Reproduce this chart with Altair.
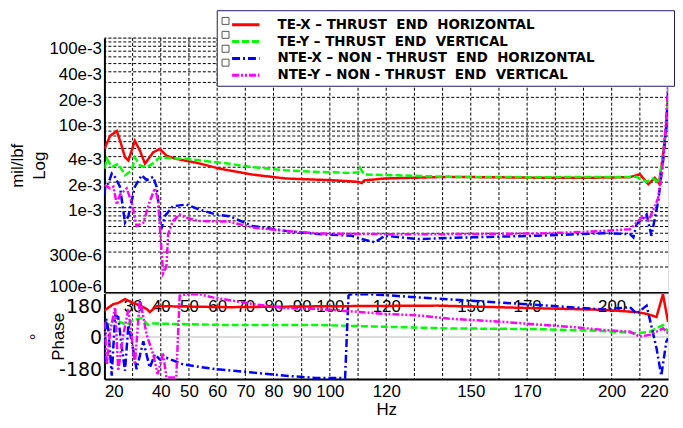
import altair as alt
import pandas as pd

SERIES = [
    "TE-X – THRUST\u00a0 END\u00a0 HORIZONTAL",
    "TE-Y – THRUST\u00a0 END\u00a0 VERTICAL",
    "NTE-X – NON - THRUST\u00a0 END\u00a0 HORIZONTAL",
    "NTE-Y – NON - THRUST\u00a0 END\u00a0 VERTICAL",
]
COLORS = ["#ff0000", "#00ff00", "#0000ff", "#ff00ff"]
DASHES = [[1, 0], [7, 3], [8, 3, 2, 3], [7, 2, 2, 2, 2, 2]]

# ---- magnitude (mil/lbf) ----
TEX_MAG_HZ = [20.0, 22.0, 24.4, 25.9, 27.3, 28.5, 30.8, 32.6, 34.4, 37.3, 39.6, 42.0, 44.9, 53.7, 60.8, 72.4, 84.3,
              100.6, 110.1, 111.3, 112.2, 119.5, 141.9, 173.6, 194.7, 206.4, 210.0, 213.0, 215.3, 216.8, 218.2, 219.4, 220.0]
TEX_MAG = [4.92e-3, 7.02e-3, 8.01e-3, 5.67e-3, 3.93e-3, 3.60e-3, 6.14e-3, 4.71e-3, 3.30e-3, 4.50e-3, 4.92e-3, 4.12e-3,
           3.80e-3, 3.33e-3, 2.89e-3, 2.46e-3, 2.21e-3, 2.11e-3, 2.02e-3, 1.95e-3, 2.10e-3, 2.21e-3, 2.31e-3, 2.26e-3,
           2.26e-3, 2.29e-3, 2.48e-3, 1.89e-3, 2.25e-3, 1.94e-3, 4.12e-3, 9.16e-3, 0.0204]

TEY_MAG_HZ = [20.0, 20.9, 22.6, 24.9, 27.3, 29.7, 30.8, 32.6, 35.0, 37.2, 39.6, 44.9, 49.0, 64.3, 72.4, 84.3, 96.0,
              107.7, 110.1, 110.7, 112.2, 131.3, 141.9, 173.6, 208.8, 212.4, 214.7, 216.8, 218.2, 219.4, 220.0]
TEY_MAG = [2.89e-3, 3.77e-3, 3.01e-3, 3.30e-3, 2.42e-3, 2.76e-3, 3.90e-3, 3.15e-3, 2.99e-3, 3.33e-3, 3.93e-3, 3.80e-3,
           3.77e-3, 3.30e-3, 3.01e-3, 2.76e-3, 2.64e-3, 2.57e-3, 2.62e-3, 2.95e-3, 2.46e-3, 2.37e-3, 2.31e-3, 2.29e-3,
           2.31e-3, 2.02e-3, 2.21e-3, 1.95e-3, 4.12e-3, 9.16e-3, 0.0252]

NTEX_MAG_HZ = [20.0, 20.3, 21.4, 22.6, 23.8, 25.5, 27.3, 28.5, 30.8, 33.2, 35.0, 37.3, 38.5, 40.2, 41.4, 44.3, 49.0,
               53.7, 59.6, 64.3, 72.5, 84.3, 96.0, 107.8, 111.3, 116.0, 119.5, 131.3, 141.9, 150.1, 173.6, 197.1, 206.5,
               207.7, 208.8, 212.4, 214.1, 216.5, 218.2, 219.4, 220.0]
NTEX_MAG = [1.42e-3, 1.77e-3, 1.94e-3, 2.53e-3, 2.29e-3, 1.77e-3, 6.67e-4, 7.95e-4, 1.77e-3, 2.42e-3, 2.11e-3, 2.31e-3,
            1.77e-3, 5.58e-4, 7.95e-4, 1.04e-3, 1.09e-3, 9.51e-4, 8.32e-4, 7.95e-4, 6.09e-4, 5.33e-4, 4.88e-4, 4.67e-4,
            4.27e-4, 3.91e-4, 4.67e-4, 4.27e-4, 4.39e-4, 4.47e-4, 4.67e-4, 5.01e-4, 4.88e-4, 4.47e-4, 6.37e-4, 8.32e-4,
            4.67e-4, 1.19e-3, 3.44e-3, 9.16e-3, 0.0233]

NTEY_MAG_HZ = [20.0, 22.0, 23.2, 24.4, 25.5, 27.9, 29.7, 31.4, 33.8, 36.1, 37.9, 39.0, 40.2, 40.8, 42.0, 42.6, 44.3,
               46.7, 49.0, 53.7, 64.3, 72.5, 84.3, 96.0, 119.5, 141.9, 173.6, 185.3, 197.1, 206.5, 208.8, 211.2, 213.1,
               215.3, 216.5, 218.2, 219.4, 220.0]
NTEY_MAG = [1.85e-3, 1.69e-3, 1.77e-3, 1.09e-3, 1.42e-3, 1.69e-3, 1.14e-3, 6.09e-4, 6.67e-4, 1.19e-3, 1.69e-3, 1.24e-3,
            3.42e-4, 1.68e-4, 2.01e-4, 4.88e-4, 6.96e-4, 8.32e-4, 7.62e-4, 6.96e-4, 6.85e-4, 5.84e-4, 5.33e-4, 4.97e-4,
            4.88e-4, 4.88e-4, 4.97e-4, 5.11e-4, 5.33e-4, 5.58e-4, 6.67e-4, 7.95e-4, 7.07e-4, 1.04e-3, 1.30e-3, 3.44e-3,
            0.0120, 0.0280]

# ---- phase (deg) ----
TEX_PH_HZ = [20.0, 23.2, 24.9, 27.3, 29.7, 32.6, 35.0, 36.1, 38.5, 64.3, 96.0, 138.3, 173.6, 197.1, 208.8, 212.4,
             215.9, 218.2, 220.0]
TEX_PH = [151, 188, 194, 216, 198, 179, 160, 142, 176, 170, 175, 179, 164, 155, 142, 132, 114, 244, 86]

TEY_PH_HZ = [20.0, 20.9, 22.0, 23.8, 25.5, 27.9, 30.2, 33.2, 35.5, 37.3, 64.3, 96.0, 141.9, 173.6, 197.1, 208.8,
             213.5, 218.2, 220.0]
TEY_PH = [60, 77, 68, 105, 86, 68, 96, 108, 68, 77, 68, 68, 49, 45, 34, 21, 30, 68, 30]

NTEX_PH_HZ = [20.0, 20.6, 21.4, 22.6, 23.8, 24.9, 25.9, 27.3, 28.5, 29.7, 31.4, 33.8, 36.1, 37.9, 39.6, 42.0, 47.9,
              53.7, 59.6, 72.5, 84.3, 94.9, 105.4, 106.6, 107.2, 113.7, 119.5, 131.3, 150.1, 173.6, 185.3, 197.1,
              206.5, 208.8, 212.4, 215.9, 217.6, 219.4, 220.0]
NTEX_PH = [-138, 105, 40, -221, 124, 114, -25, -193, 68, -25, -184, -25, -175, -100, -128, -119, -156, -171, -184,
           -203, -221, -234, -234, 235, 244, 244, 239, 226, 207, 183, 170, 157, 170, 132, 179, -63, -221, -26, -7]

NTEY_PH_HZ = [20.0, 20.9, 22.0, 23.8, 24.9, 26.6, 28.5, 30.8, 32.6, 35.0, 37.3, 38.9, 40.8, 42.0, 45.5, 46.7, 49.0,
              53.7, 58.4, 72.5, 84.3, 96.0, 107.8, 119.5, 131.3, 141.9, 161.8, 173.6, 185.3, 197.1, 206.5, 210.0,
              213.5, 215.9, 218.2, 220.0]
NTEY_PH = [86, -156, 30, 170, -193, 2, 160, -156, 216, 12, -100, -212, -91, -231, -231, 235, 244, 244, 226, 188, 164,
           160, 146, 132, 123, 105, 86, 71, 58, 40, 30, 2, 12, 30, 49, 21]

# ---- axes / grids ----
X_DOMAIN = [20, 220]
X_GRID = [30, 40, 50, 60, 70, 80, 90, 100, 110, 120, 130, 140, 150, 160, 170, 180, 190, 200, 210]
TOP_X_LABELS = [30, 40, 50, 60, 70, 80, 90, 100, 120, 150, 170, 200]
BOTTOM_X_LABELS = [20, 40, 50, 60, 70, 80, 90, 100, 120, 150, 170, 200, 220]
MAG_DOMAIN = [1e-4, 1e-1]
MAG_GRID = [1e-4, 2e-4, 3e-4, 4e-4, 5e-4, 6e-4, 7e-4, 8e-4, 9e-4,
            1e-3, 2e-3, 3e-3, 4e-3, 5e-3, 6e-3, 7e-3, 8e-3, 9e-3,
            1e-2, 2e-2, 3e-2, 4e-2, 5e-2, 6e-2, 7e-2, 8e-2, 9e-2, 1e-1]
MAG_TICKS = [1e-4, 3e-4, 1e-3, 2e-3, 4e-3, 1e-2, 2e-2, 4e-2, 1e-1]
MAG_TICK_LABELS = ["100e-6", "300e-6", "1e-3", "2e-3", "4e-3", "10e-3", "20e-3", "40e-3", "100e-3"]
PH_DOMAIN = [-240, 248]
PH_TICKS = [-180, 0, 180]
PH_ZERO = [0]


def long_df(hz_lists, val_lists):
    rows = []
    for k, (name, hz, vals) in enumerate(zip(SERIES, hz_lists, val_lists)):
        for i, (h, v) in enumerate(zip(hz, vals)):
            rows.append({"series": name, "box": k, "hz": h, "v": v, "i": i})
    return pd.DataFrame(rows)


mag_df = long_df([TEX_MAG_HZ, TEY_MAG_HZ, NTEX_MAG_HZ, NTEY_MAG_HZ], [TEX_MAG, TEY_MAG, NTEX_MAG, NTEY_MAG])
ph_df = long_df([TEX_PH_HZ, TEY_PH_HZ, NTEX_PH_HZ, NTEY_PH_HZ], [TEX_PH, TEY_PH, NTEX_PH, NTEY_PH])

# label expression for the log axis
conds = []
for k in range(len(MAG_TICKS) - 1):
    mid = (MAG_TICKS[k] * MAG_TICKS[k + 1]) ** 0.5
    conds.append(f"datum.value < {mid:.6g} ? '{MAG_TICK_LABELS[k]}' : ")
mag_label_expr = "".join(conds) + f"'{MAG_TICK_LABELS[-1]}'"

W = 567
H_MAG = 256
H_PH = 86
AX_FONT = "Liberation Sans"
LEG_X = 113
LEG_Y = -28
ROW_PAD = -1.6
ZW = "\u200b"

x_scale = alt.Scale(domain=X_DOMAIN, nice=False, zero=False)
mag_scale = alt.Scale(type="log", domain=MAG_DOMAIN, nice=False)
ph_scale = alt.Scale(domain=PH_DOMAIN, nice=False, zero=False)

x_mag = alt.X("hz:Q", scale=x_scale,
              axis=alt.Axis(values=TOP_X_LABELS, title=None, grid=False, ticks=False, labelPadding=6,
                            labelFontSize=17, labelFont=AX_FONT, labelColor="black", domainColor="black",
                            domainWidth=2, labelOverlap=False))
x_ph = alt.X("hz:Q", scale=x_scale,
             axis=alt.Axis(values=BOTTOM_X_LABELS, title="Hz", grid=False, ticks=False, labelPadding=5,
                           labelFontSize=17, labelFont=AX_FONT, labelColor="black", domainColor="black",
                           domainWidth=2, labelFlush=True, labelOverlap=False, titleFont=AX_FONT,
                           titleFontSize=17, titleFontWeight="normal", titleColor="black", titlePadding=2))

legend = alt.Legend(title=None, orient="none", legendX=LEG_X, legendY=LEG_Y, fillColor="white",
                    strokeColor="#1c1c6b", padding=4, symbolType="M-1.6,0H1.6", symbolSize=296,
                    symbolStrokeWidth=3, symbolOffset=14.7, labelFont="DejaVu Sans", labelFontWeight="bold",
                    labelFontSize=13.5, labelColor="black", labelOffset=21.4, labelLimit=0, rowPadding=ROW_PAD,
                    labelExpr="datum.label + '" + "\u00a0" * 16 + ZW + "'", zindex=1)

box_legend = alt.Legend(title=None, orient="none", legendX=LEG_X + 2.1, legendY=LEG_Y + 4, padding=0,
                        symbolType="square", symbolSize=49, symbolFillColor="white", symbolStrokeColor="#555555",
                        symbolStrokeWidth=1, symbolOpacity=1, labelFont="DejaVu Sans", labelFontWeight="bold",
                        labelFontSize=13.5, labelExpr="'" + ZW + "'", labelOffset=1, rowPadding=ROW_PAD,
                        zindex=2)

color_enc = alt.Color("series:N", scale=alt.Scale(domain=SERIES, range=COLORS), legend=legend)
dash_enc = alt.StrokeDash("series:N", scale=alt.Scale(domain=SERIES, range=DASHES), legend=legend)

# ---- magnitude panel ----
mag_xgrid = alt.Chart(pd.DataFrame({"g": X_GRID})).mark_rule(color="black", strokeDash=[3, 2],
                                                              strokeWidth=1).encode(
    x=alt.X("g:Q", scale=x_scale))
mag_ygrid = alt.Chart(pd.DataFrame({"g": MAG_GRID})).mark_rule(color="black", strokeDash=[3, 2],
                                                                strokeWidth=1).encode(
    y=alt.Y("g:Q", scale=mag_scale))
mag_y = alt.Y("v:Q", scale=mag_scale,
              axis=alt.Axis(values=MAG_TICKS, labelExpr=mag_label_expr, title=["mil/lbf", "Log"], grid=False,
                            ticks=False, labelPadding=3, labelFontSize=17, labelFont=AX_FONT, labelColor="black",
                            labelFlush=True, labelOffset=3, labelOverlap=False, domainColor="black", domainWidth=2,
                            titleFont=AX_FONT, titleFontSize=17, titleFontWeight="normal", titleColor="black",
                            titleLineHeight=22, titlePadding=0))
mag_lines = alt.Chart(mag_df).mark_line(strokeWidth=2.5, clip=True).encode(
    x=x_mag, y=mag_y, color=color_enc, strokeDash=dash_enc, order="i:Q")
mag_boxes = alt.Chart(mag_df).mark_point(opacity=0, filled=False, clip=True).encode(
    x=alt.X("hz:Q", scale=x_scale), y=alt.Y("v:Q", scale=mag_scale),
    shape=alt.Shape("box:O", scale=alt.Scale(domain=[0, 1, 2, 3], range=["square"] * 4), legend=box_legend))
mag_chart = alt.layer(mag_xgrid, mag_ygrid, mag_lines, mag_boxes).properties(width=W, height=H_MAG)

# ---- phase panel ----
ph_xgrid = alt.Chart(pd.DataFrame({"g": X_GRID})).mark_rule(color="black", strokeDash=[3, 2],
                                                             strokeWidth=1).encode(
    x=alt.X("g:Q", scale=x_scale))
ph_zero = alt.Chart(pd.DataFrame({"g": PH_ZERO})).mark_rule(color="#dddddd", strokeWidth=2).encode(
    y=alt.Y("g:Q", scale=ph_scale))
ph_lines = alt.Chart(ph_df).mark_line(strokeWidth=2.5, clip=True).encode(
    x=x_ph,
    y=alt.Y("v:Q", scale=ph_scale,
            axis=alt.Axis(values=PH_TICKS, labelExpr="'' + datum.value", title=["°", "Phase"], grid=False,
                          ticks=False, labelPadding=3, labelFontSize=19, labelFont="DejaVu Sans",
                          labelColor="black", labelOverlap=False, labelOffset=1, domainColor="black",
                          domainWidth=2, titleFont=AX_FONT, titleFontSize=17, titleFontWeight="normal",
                          titleColor="black", titleLineHeight=22, titlePadding=-9)),
    color=alt.Color("series:N", scale=alt.Scale(domain=SERIES, range=COLORS), legend=None),
    strokeDash=alt.StrokeDash("series:N", scale=alt.Scale(domain=SERIES, range=DASHES), legend=None),
    order="i:Q",
)
ph_chart = alt.layer(ph_xgrid, ph_zero, ph_lines).properties(width=W, height=H_PH)

chart = alt.vconcat(mag_chart, ph_chart, spacing=1, bounds="flush").properties(
    padding={"left": 0, "top": 0, "right": 0, "bottom": 0}
).configure_view(stroke="black", strokeWidth=1.5).configure(background="white")

chart.save("out.html", embed_options={"renderer": "svg", "actions": False})
